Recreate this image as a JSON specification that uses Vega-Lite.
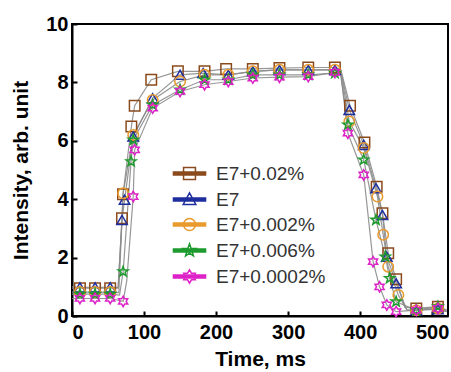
{
  "$schema": "https://vega.github.io/schema/vega-lite/v6.json",
  "width": 376,
  "height": 292,
  "autosize": {"type": "none"},
  "padding": {"left": 72, "top": 24, "right": 3, "bottom": 56},
  "config": {
    "view": {"stroke": "black", "strokeWidth": 2},
    "font": "Liberation Sans",
    "axis": {
      "domainColor": "black", "domainWidth": 2, "tickColor": "black", "tickWidth": 2,
      "tickSize": -5, "grid": false,
      "labelFont": "Liberation Sans", "labelFontWeight": "bold", "labelFontSize": 20, "labelColor": "black",
      "titleFont": "Liberation Sans", "titleFontWeight": "bold", "titleFontSize": 21, "titleColor": "black"
    }
  },
  "data": {"values": [
    {"s":"E7+0.02%","t":0,"v":0.95,"m":0},{"s":"E7+0.02%","t":11,"v":0.95,"m":1},{"s":"E7+0.02%","t":32,"v":0.95,"m":1},{"s":"E7+0.02%","t":53,"v":0.95,"m":1},{"s":"E7+0.02%","t":64,"v":0.95,"m":0},{"s":"E7+0.02%","t":69.4,"v":3.35,"m":1},{"s":"E7+0.02%","t":70.8,"v":4.17,"m":1},{"s":"E7+0.02%","t":82.4,"v":6.49,"m":1},{"s":"E7+0.02%","t":87,"v":7.2,"m":1},{"s":"E7+0.02%","t":110,"v":8.09,"m":1},{"s":"E7+0.02%","t":147,"v":8.38,"m":1},{"s":"E7+0.02%","t":184,"v":8.38,"m":1},{"s":"E7+0.02%","t":214,"v":8.46,"m":1},{"s":"E7+0.02%","t":251,"v":8.46,"m":1},{"s":"E7+0.02%","t":288,"v":8.49,"m":1},{"s":"E7+0.02%","t":328,"v":8.51,"m":1},{"s":"E7+0.02%","t":365,"v":8.51,"m":1},{"s":"E7+0.02%","t":373,"v":8.45,"m":0},{"s":"E7+0.02%","t":386,"v":7.2,"m":1},{"s":"E7+0.02%","t":406,"v":5.94,"m":1},{"s":"E7+0.02%","t":423,"v":4.43,"m":1},{"s":"E7+0.02%","t":431,"v":3.52,"m":1},{"s":"E7+0.02%","t":439,"v":2.15,"m":1},{"s":"E7+0.02%","t":450,"v":1.26,"m":1},{"s":"E7+0.02%","t":462,"v":0.3,"m":0},{"s":"E7+0.02%","t":478,"v":0.26,"m":1},{"s":"E7+0.02%","t":508,"v":0.32,"m":1},{"s":"E7+0.02%","t":520,"v":0.2,"m":0},
    {"s":"E7","t":0,"v":1.0,"m":0},{"s":"E7","t":11,"v":0.98,"m":1},{"s":"E7","t":32,"v":0.98,"m":1},{"s":"E7","t":53,"v":0.98,"m":1},{"s":"E7","t":64,"v":0.98,"m":0},{"s":"E7","t":69.4,"v":3.29,"m":1},{"s":"E7","t":73,"v":3.98,"m":1},{"s":"E7","t":85,"v":6.15,"m":1},{"s":"E7","t":112,"v":7.46,"m":1},{"s":"E7","t":150,"v":8.26,"m":1},{"s":"E7","t":182,"v":8.32,"m":1},{"s":"E7","t":217,"v":8.26,"m":1},{"s":"E7","t":251,"v":8.38,"m":1},{"s":"E7","t":288,"v":8.43,"m":1},{"s":"E7","t":328,"v":8.43,"m":1},{"s":"E7","t":365,"v":8.43,"m":1},{"s":"E7","t":373,"v":8.4,"m":0},{"s":"E7","t":385,"v":7.06,"m":1},{"s":"E7","t":405,"v":5.86,"m":1},{"s":"E7","t":422,"v":4.38,"m":1},{"s":"E7","t":431,"v":3.46,"m":1},{"s":"E7","t":437,"v":2.03,"m":1},{"s":"E7","t":450,"v":1.12,"m":1},{"s":"E7","t":465,"v":0.2,"m":0},{"s":"E7","t":478,"v":0.2,"m":1},{"s":"E7","t":508,"v":0.23,"m":1},{"s":"E7","t":520,"v":0.15,"m":0},
    {"s":"E7+0.002%","t":0,"v":0.82,"m":0},{"s":"E7+0.002%","t":11,"v":0.82,"m":1},{"s":"E7+0.002%","t":32,"v":0.82,"m":1},{"s":"E7+0.002%","t":53,"v":0.82,"m":1},{"s":"E7+0.002%","t":65,"v":0.8,"m":0},{"s":"E7+0.002%","t":71,"v":4.2,"m":1},{"s":"E7+0.002%","t":85,"v":6.2,"m":1},{"s":"E7+0.002%","t":112,"v":7.4,"m":1},{"s":"E7+0.002%","t":150,"v":8.03,"m":1},{"s":"E7+0.002%","t":184,"v":8.26,"m":1},{"s":"E7+0.002%","t":217,"v":8.26,"m":1},{"s":"E7+0.002%","t":251,"v":8.38,"m":1},{"s":"E7+0.002%","t":288,"v":8.43,"m":1},{"s":"E7+0.002%","t":328,"v":8.43,"m":1},{"s":"E7+0.002%","t":365,"v":8.43,"m":1},{"s":"E7+0.002%","t":373,"v":8.4,"m":0},{"s":"E7+0.002%","t":385,"v":6.66,"m":1},{"s":"E7+0.002%","t":405,"v":5.75,"m":1},{"s":"E7+0.002%","t":424,"v":4.09,"m":1},{"s":"E7+0.002%","t":432,"v":2.78,"m":1},{"s":"E7+0.002%","t":439,"v":1.69,"m":1},{"s":"E7+0.002%","t":453,"v":0.72,"m":1},{"s":"E7+0.002%","t":465,"v":0.2,"m":0},{"s":"E7+0.002%","t":478,"v":0.2,"m":1},{"s":"E7+0.002%","t":508,"v":0.26,"m":1},{"s":"E7+0.002%","t":520,"v":0.2,"m":0},
    {"s":"E7+0.006%","t":0,"v":0.75,"m":0},{"s":"E7+0.006%","t":11,"v":0.75,"m":1},{"s":"E7+0.006%","t":32,"v":0.75,"m":1},{"s":"E7+0.006%","t":53,"v":0.75,"m":1},{"s":"E7+0.006%","t":66,"v":0.72,"m":0},{"s":"E7+0.006%","t":71,"v":1.52,"m":1},{"s":"E7+0.006%","t":82,"v":5.29,"m":1},{"s":"E7+0.006%","t":85,"v":6.03,"m":1},{"s":"E7+0.006%","t":112,"v":7.23,"m":1},{"s":"E7+0.006%","t":150,"v":7.75,"m":1},{"s":"E7+0.006%","t":184,"v":8.09,"m":1},{"s":"E7+0.006%","t":217,"v":8.09,"m":1},{"s":"E7+0.006%","t":251,"v":8.26,"m":1},{"s":"E7+0.006%","t":288,"v":8.26,"m":1},{"s":"E7+0.006%","t":328,"v":8.26,"m":1},{"s":"E7+0.006%","t":365,"v":8.32,"m":1},{"s":"E7+0.006%","t":373,"v":8.3,"m":0},{"s":"E7+0.006%","t":383,"v":6.55,"m":1},{"s":"E7+0.006%","t":405,"v":5.35,"m":1},{"s":"E7+0.006%","t":422,"v":3.29,"m":1},{"s":"E7+0.006%","t":435,"v":2.03,"m":1},{"s":"E7+0.006%","t":441,"v":1.29,"m":1},{"s":"E7+0.006%","t":450,"v":0.49,"m":1},{"s":"E7+0.006%","t":478,"v":0.2,"m":1},{"s":"E7+0.006%","t":508,"v":0.32,"m":1},{"s":"E7+0.006%","t":520,"v":0.2,"m":0},
    {"s":"E7+0.0002%","t":0,"v":0.6,"m":0},{"s":"E7+0.0002%","t":11,"v":0.6,"m":1},{"s":"E7+0.0002%","t":32,"v":0.6,"m":1},{"s":"E7+0.0002%","t":53,"v":0.6,"m":1},{"s":"E7+0.0002%","t":71,"v":0.5,"m":1},{"s":"E7+0.0002%","t":76,"v":1.2,"m":0},{"s":"E7+0.0002%","t":85,"v":4.09,"m":1},{"s":"E7+0.0002%","t":87,"v":5.69,"m":1},{"s":"E7+0.0002%","t":112,"v":7.12,"m":1},{"s":"E7+0.0002%","t":150,"v":7.69,"m":1},{"s":"E7+0.0002%","t":184,"v":7.92,"m":1},{"s":"E7+0.0002%","t":217,"v":8.03,"m":1},{"s":"E7+0.0002%","t":251,"v":8.15,"m":1},{"s":"E7+0.0002%","t":288,"v":8.18,"m":1},{"s":"E7+0.0002%","t":328,"v":8.2,"m":1},{"s":"E7+0.0002%","t":365,"v":8.34,"m":1},{"s":"E7+0.0002%","t":373,"v":8.3,"m":0},{"s":"E7+0.0002%","t":383,"v":6.26,"m":1},{"s":"E7+0.0002%","t":405,"v":4.83,"m":1},{"s":"E7+0.0002%","t":418,"v":1.86,"m":1},{"s":"E7+0.0002%","t":427,"v":1.0,"m":1},{"s":"E7+0.0002%","t":437,"v":0.38,"m":1},{"s":"E7+0.0002%","t":450,"v":0.15,"m":1},{"s":"E7+0.0002%","t":478,"v":0.2,"m":1},{"s":"E7+0.0002%","t":508,"v":0.26,"m":1},{"s":"E7+0.0002%","t":520,"v":0.15,"m":0}
  ]},
  "encoding": {
    "x": {"field": "t", "type": "quantitative", "scale": {"domain": [0, 522], "nice": false},
          "axis": {"values": [0,100,200,300,400,500], "title": "Time, ms", "labelPadding": 11, "titlePadding": 6}},
    "y": {"field": "v", "type": "quantitative", "scale": {"domain": [0, 10], "nice": false},
          "axis": {"values": [0,2,4,6,8,10], "title": "Intensity, arb. unit", "labelPadding": 9, "titlePadding": 14}}
  },
  "layer": [
    {"mark": {"type": "line", "color": "#8c8c8c", "strokeWidth": 1.2, "opacity": 0.9},
     "encoding": {"detail": {"field": "s"}}},
    {"transform": [{"filter": "datum.m == 1"}],
     "mark": {"type": "point", "filled": false, "strokeWidth": 1.5, "size": 110, "opacity": 1},
     "encoding": {
       "color": {"field": "s", "type": "nominal",
                 "scale": {"domain": ["E7+0.02%","E7","E7+0.002%","E7+0.006%","E7+0.0002%"], "range": ["#8B4A1C","#1F2E9E","#E89A2C","#1E9B2E","#DD22C8"]},
                 "legend": null},
       "shape": {"field": "s", "type": "nominal",
                 "scale": {"domain": ["E7+0.02%","E7","E7+0.002%","E7+0.006%","E7+0.0002%"],
                           "range": ["square","triangle-up","circle",
                                     "M0,-1L0.235,-0.324L0.951,-0.309L0.38,0.124L0.588,0.809L0,0.4L-0.588,0.809L-0.38,0.124L-0.951,-0.309L-0.235,-0.324Z",
                                     "M0,-1L0.289,-0.5L0.866,-0.5L0.577,0L0.866,0.5L0.289,0.5L0,1L-0.289,0.5L-0.866,0.5L-0.577,0L-0.866,-0.5L-0.289,-0.5Z"]},
                 "legend": null}
     }},
    {"transform": [{"filter": "false"}],
     "mark": {"type": "point", "filled": false, "strokeWidth": 1.5, "size": 196, "opacity": 1},
     "encoding": {
       "color": {"field": "s", "type": "nominal",
                 "scale": {"domain": ["E7+0.02%","E7","E7+0.002%","E7+0.006%","E7+0.0002%"], "range": ["#8B4A1C","#1F2E9E","#E89A2C","#1E9B2E","#DD22C8"]},
                 "legend": {"title": null, "orient": "none", "legendX": 108, "legendY": 140, "labelFont": "Liberation Sans", "labelFontSize": 19, "labelColor": "#333333", "rowPadding": 5, "labelOffset": 17, "symbolStrokeWidth": 1.5, "symbolSize": 196}},
       "shape": {"field": "s", "type": "nominal",
                 "scale": {"domain": ["E7+0.02%","E7","E7+0.002%","E7+0.006%","E7+0.0002%"],
                           "range": [
                             "M-2.4,-0.2H2.4M-2.4,-0.1H2.4M-2.4,0H2.4M-2.4,0.1H2.4M-2.4,0.2H2.4M-0.85,-0.85H0.85V0.85H-0.85Z",
                             "M-2.4,-0.2H2.4M-2.4,-0.1H2.4M-2.4,0H2.4M-2.4,0.1H2.4M-2.4,0.2H2.4M0,-0.95L0.9,0.7L-0.9,0.7Z",
                             "M-2.4,-0.2H2.4M-2.4,-0.1H2.4M-2.4,0H2.4M-2.4,0.1H2.4M-2.4,0.2H2.4M0.85,0A0.85,0.85 0 1,1 -0.85,0A0.85,0.85 0 1,1 0.85,0Z",
                             "M-2.4,-0.2H2.4M-2.4,-0.1H2.4M-2.4,0H2.4M-2.4,0.1H2.4M-2.4,0.2H2.4M0,-0.95L0.223,-0.308L0.903,-0.294L0.361,0.118L0.559,0.769L0,0.38L-0.559,0.769L-0.361,0.118L-0.903,-0.294L-0.223,-0.308Z",
                             "M-2.4,-0.2H2.4M-2.4,-0.1H2.4M-2.4,0H2.4M-2.4,0.1H2.4M-2.4,0.2H2.4M0,-0.95L0.275,-0.475L0.823,-0.475L0.548,0L0.823,0.475L0.275,0.475L0,0.95L-0.275,0.475L-0.823,0.475L-0.548,0L-0.823,-0.475L-0.275,-0.475Z"]},
                 "legend": {"title": null, "orient": "none", "legendX": 108, "legendY": 140, "labelFont": "Liberation Sans", "labelFontSize": 19, "labelColor": "#333333", "rowPadding": 5, "labelOffset": 17, "symbolStrokeWidth": 1.5, "symbolSize": 196}}
     }}
  ],
  "resolve": {"scale": {"color": "independent", "shape": "independent"}}
}
